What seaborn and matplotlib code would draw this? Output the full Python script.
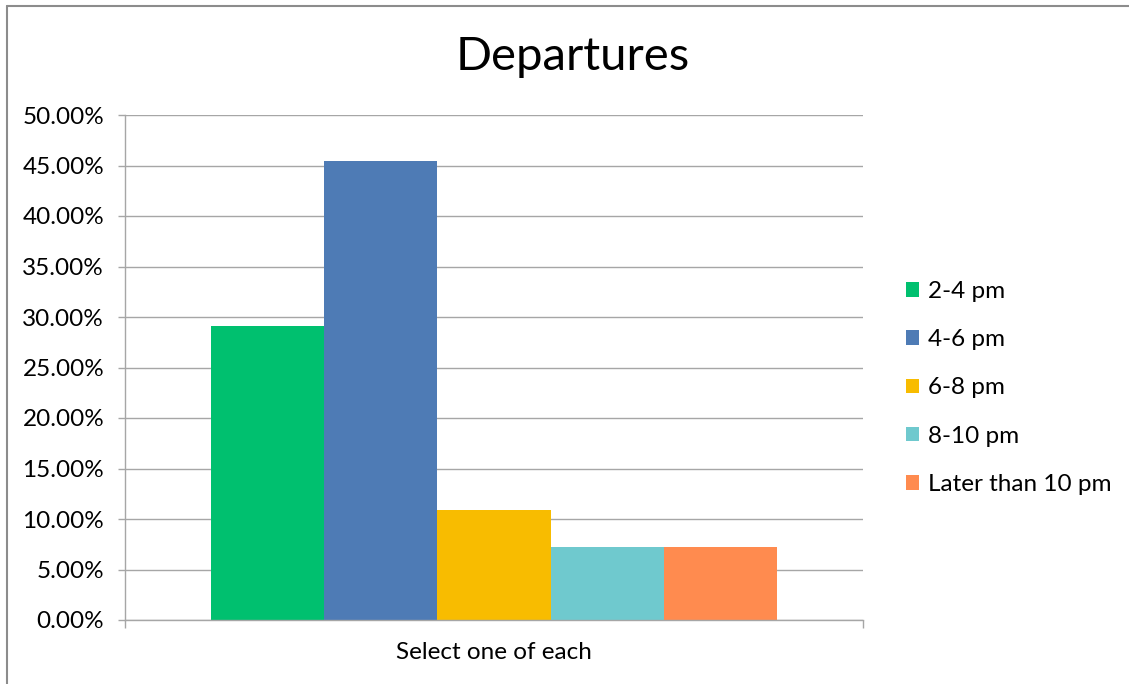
import matplotlib
matplotlib.use("Agg")
import matplotlib.pyplot as plt
from matplotlib.ticker import FuncFormatter, FixedLocator
import seaborn as sns
import pandas as pd

# Share of respondents per departure window
windows = ["2-4 pm", "4-6 pm", "6-8 pm", "8-10 pm", "Later than 10 pm"]
shares = [0.2909, 0.4545, 0.1091, 0.0727, 0.0727]
question = ["Select one of each"] * len(windows)
colors = ["#00C06F", "#4E7BB5", "#F8BC00", "#6FC9CE", "#FF8B4F"]
y_ticks = [0.0, 0.05, 0.10, 0.15, 0.20, 0.25, 0.30, 0.35, 0.40, 0.45, 0.50]

df = pd.DataFrame({"question": question, "window": windows, "share": shares})

sns.set_theme(style="white")
plt.rcParams["font.family"] = ["Lato", "DejaVu Sans"]

W, H = 1129, 684
fs = 17.5
fig = plt.figure(figsize=(W / 100, H / 100), dpi=100)
ax = fig.add_axes([125 / W, (H - 620) / H, 738 / W, 505 / H])

sns.barplot(data=df, x="question", y="share", hue="window",
            palette=colors, width=566 / 738, saturation=1, linewidth=0,
            ax=ax, legend=True)

grid_c = "#A6A6A6"
ax.set_xlim(-0.5, 0.5)
ax.set_ylim(0, 0.5)
ax.yaxis.set_major_locator(FixedLocator(y_ticks))
ax.yaxis.set_major_formatter(FuncFormatter(lambda v, p: f"{v * 100:.2f}%"))
ax.grid(axis="y", color=grid_c, linewidth=1.0)
ax.set_axisbelow(True)
for s in ["top", "right"]:
    ax.spines[s].set_visible(False)
for s in ["left", "bottom"]:
    ax.spines[s].set_color(grid_c)
    ax.spines[s].set_linewidth(1.0)

ax.tick_params(axis="y", which="major", left=True, length=5, width=1,
               color=grid_c, labelsize=fs, labelcolor="black", pad=10)
ax.tick_params(axis="x", which="major", bottom=False, labelsize=fs,
               labelcolor="black", pad=10)
ax.set_xticks([-0.5, 0.5], minor=True)
ax.tick_params(axis="x", which="minor", bottom=True, length=6, width=1,
               color=grid_c)
ax.set_xlabel("")
ax.set_ylabel("")

leg = ax.legend(loc="upper left", bbox_to_anchor=(906 / W, (H - 281) / H),
                bbox_transform=fig.transFigure, frameon=False, fontsize=fs,
                handlelength=0.55, handleheight=0.55, handletextpad=0.37,
                labelspacing=1.12, borderaxespad=0, borderpad=0)
for t in leg.get_texts():
    t.set_color("black")

fig.text(573 / W, (H - 57) / H, "Departures", ha="center", va="center",
         fontsize=34, color="black")

# chart frame (top and left edges)
border = "#8C8C8C"
fig.add_artist(plt.Line2D([7 / W, 1], [1 - 6 / H, 1 - 6 / H],
                          transform=fig.transFigure, color=border, lw=1.5))
fig.add_artist(plt.Line2D([7 / W, 7 / W], [0, 1 - 6 / H],
                          transform=fig.transFigure, color=border, lw=1.5))

fig.savefig("out.png", dpi=100, facecolor="white")
